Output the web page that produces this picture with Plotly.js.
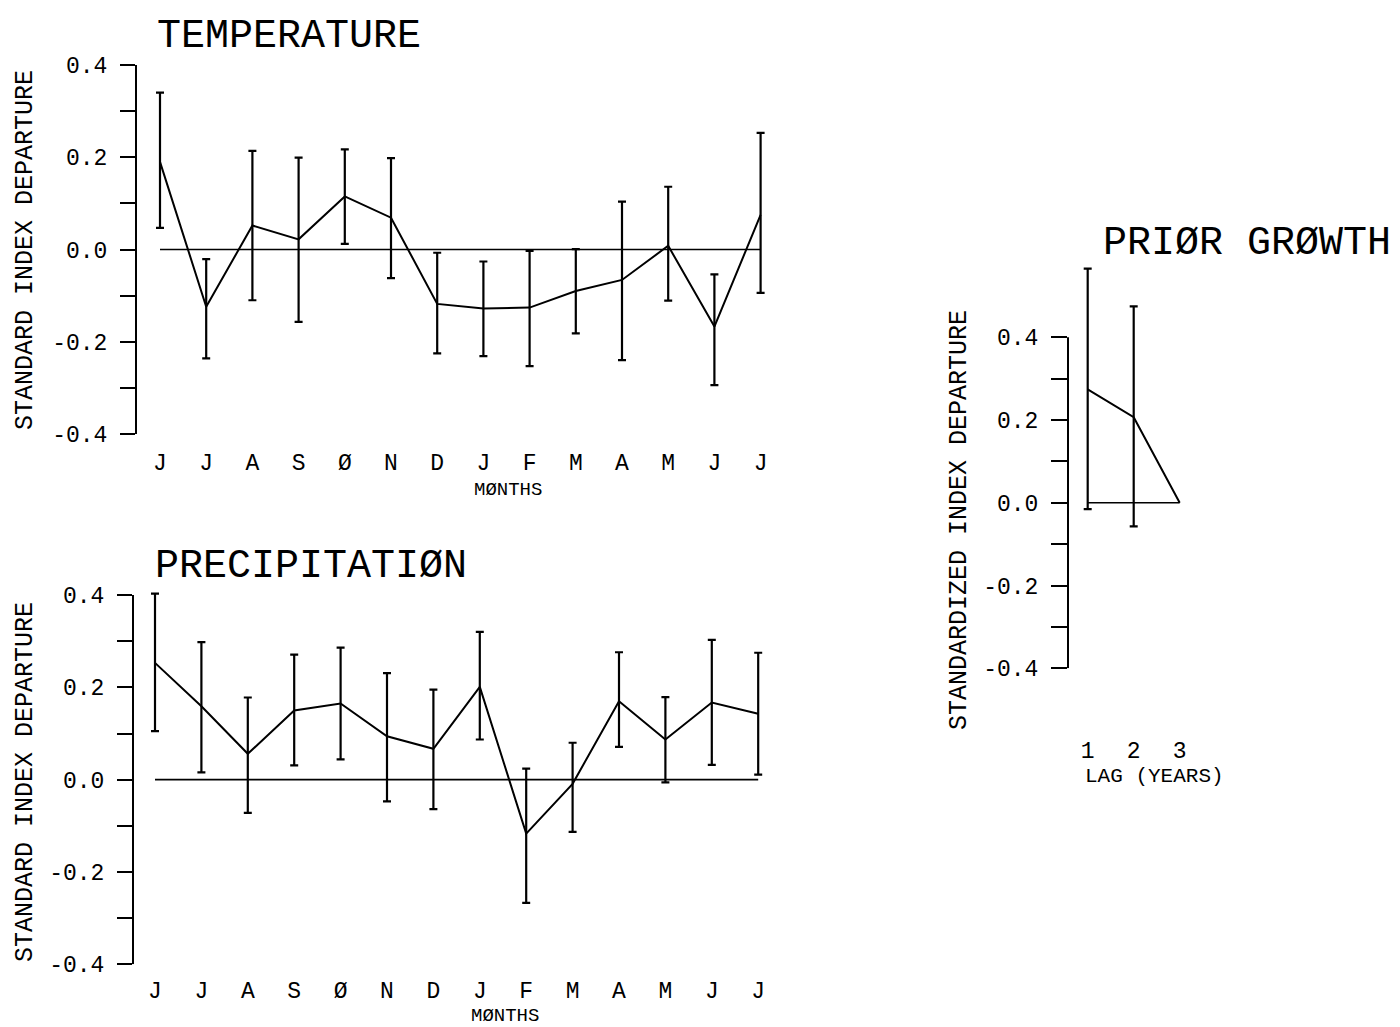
<!DOCTYPE html>
<html>
<head>
<meta charset="utf-8">
<script src="https://cdn.plot.ly/plotly-3.0.1.min.js"></script>
<style>html,body{margin:0;padding:0;background:#fff;}#chart{width:1400px;height:1027px;}</style>
</head>
<body>
<div id="chart"></div>
<script>
// ---- data ----
const months = ["J","J","A","S","Ø","N","D","J","F","M","A","M","J","J"];
const tempValues = [0.19, -0.124, 0.052, 0.022, 0.115, 0.069, -0.118, -0.128, -0.126, -0.09, -0.066, 0.008, -0.167, 0.075];
const tempUpper  = [0.34, -0.021, 0.214, 0.199, 0.217, 0.198, -0.007, -0.026, -0.003, 0.001, 0.104, 0.136, -0.054, 0.253];
const tempLower  = [0.047, -0.236, -0.11, -0.157, 0.012, -0.062, -0.225, -0.231, -0.253, -0.182, -0.24, -0.111, -0.294, -0.094];
const precipValues = [0.253, 0.159, 0.056, 0.150, 0.165, 0.094, 0.067, 0.201, -0.117, -0.009, 0.170, 0.087, 0.167, 0.143];
const precipUpper  = [0.403, 0.298, 0.178, 0.271, 0.286, 0.231, 0.195, 0.320, 0.024, 0.080, 0.276, 0.179, 0.303, 0.275];
const precipLower  = [0.105, 0.016, -0.072, 0.031, 0.044, -0.047, -0.064, 0.087, -0.267, -0.113, 0.071, -0.006, 0.032, 0.011];
const lagYears = [1, 2, 3];
const growthValues = [0.274, 0.207, 0.0];
const growthUpper  = [0.566, 0.475, null];
const growthLower  = [-0.015, -0.057, null];
const yTickVals = [-0.4, -0.3, -0.2, -0.1, 0.0, 0.1, 0.2, 0.3, 0.4];
const yTickText = ["-0.4", "", "-0.2", "", "0.0", "", "0.2", "", "0.4"];

// ---- helpers ----
const W = 1400, H = 1027;
const FONT = "Liberation Mono, DejaVu Sans Mono, monospace";
const px = v => v / W;
const py = v => 1 - v / H;
const idx = months.map((_, i) => i);
const plus = (hi, v) => hi.map((h, i) => h == null ? NaN : h - v[i]);
const minus = (lo, v) => lo.map((l, i) => l == null ? NaN : v[i] - l);

function seriesTrace(x, y, hi, lo, xa, ya) {
  return {
    type: "scatter", mode: "lines", x: x, y: y, xaxis: xa, yaxis: ya,
    line: {color: "#000", width: 2}, cliponaxis: false, showlegend: false, hoverinfo: "skip",
    error_y: {type: "data", symmetric: false, array: plus(hi, y), arrayminus: minus(lo, y),
              color: "#000", thickness: 2.2, width: 4}
  };
}
function zeroTrace(x, xa, ya) {
  return {type: "scatter", mode: "lines", x: [x[0], x[x.length - 1]], y: [0, 0], xaxis: xa, yaxis: ya,
          line: {color: "#000", width: 1.6}, showlegend: false, hoverinfo: "skip", cliponaxis: false};
}

const data = [
  zeroTrace(idx, "x", "y"),
  seriesTrace(idx, tempValues, tempUpper, tempLower, "x", "y"),
  zeroTrace(idx, "x2", "y2"),
  seriesTrace(idx, precipValues, precipUpper, precipLower, "x2", "y2"),
  zeroTrace(lagYears, "x3", "y3"),
  seriesTrace(lagYears, growthValues, growthUpper, growthLower, "x3", "y3")
];

function yAxis(domTop, domBot, range, showline) {
  return {
    domain: [py(domBot), py(domTop)], range: range, fixedrange: true,
    tickmode: "array", tickvals: yTickVals, ticktext: yTickText,
    ticks: "outside", ticklen: 15, tickwidth: 2, tickcolor: "#000",
    showline: showline, linewidth: 2, linecolor: "#000",
    showgrid: false, zeroline: false, ticklabelstandoff: 8,
    tickfont: {family: FONT, size: 23, color: "#000"}
  };
}
function xAxis(domL, domR, range, vals, text, standoff, anchor) {
  return {
    domain: [px(domL), px(domR)], range: range, anchor: anchor, fixedrange: true,
    tickmode: "array", tickvals: vals, ticktext: text, ticks: "",
    showline: false, showgrid: false, zeroline: false, ticklabelstandoff: standoff,
    tickfont: {family: FONT, size: 23, color: "#000"}
  };
}

function ann(text, x, y, size, opts) {
  return Object.assign({text: text, xref: "paper", yref: "paper", x: px(x), y: py(y),
    showarrow: false, xanchor: "left", yanchor: "middle",
    font: {family: FONT, size: size, color: "#000"}}, opts || {});
}

const layout = {
  width: W, height: H, margin: {l: 0, r: 0, t: 0, b: 0},
  paper_bgcolor: "#fff", plot_bgcolor: "rgba(0,0,0,0)", showlegend: false,
  xaxis: xAxis(137, 770, [-(160 - 137) / 46.2, (770 - 160) / 46.2], idx, months, 12, "y"),
  yaxis: yAxis(65, 434, [-0.4, 0.4], true),
  xaxis2: xAxis(133, 770, [-(155 - 133) / 46.4, (770 - 155) / 46.4], idx, months, 10, "y2"),
  yaxis2: Object.assign(yAxis(585.8, 964.3, [-0.4, 0.42], false), {anchor: "x2"}),
  xaxis3: xAxis(1068, 1200, [1 - (1087.7 - 1068) / 46, 1 + (1200 - 1087.7) / 46], lagYears, lagYears.map(String), 66, "y3"),
  yaxis3: Object.assign(yAxis(254.6, 668.3, [-0.4, 0.6], false), {anchor: "x3", ticklen: 16}),
  shapes: [
    {type: "line", xref: "x2 domain", yref: "y2", x0: 0, x1: 0, y0: -0.4, y1: 0.4,
     line: {color: "#000", width: 2}},
    {type: "line", xref: "x3 domain", yref: "y3", x0: 0, x1: 0, y0: -0.4, y1: 0.4,
     line: {color: "#000", width: 2}}
  ],
  annotations: [
    ann("TEMPERATURE", 155, 36, 40),
    ann("PRECIPITATIØN", 153, 566, 40),
    ann("PRIØR GRØWTH", 1101, 243, 40),
    ann("STANDARD INDEX DEPARTURE", 25, 250, 25, {xanchor: "center", textangle: -90}),
    ann("STANDARD INDEX DEPARTURE", 25, 782, 25, {xanchor: "center", textangle: -90}),
    ann("STANDARDIZED INDEX DEPARTURE", 959, 520, 25, {xanchor: "center", textangle: -90}),
    ann("MØNTHS", 508, 490, 19, {xanchor: "center"}),
    ann("MØNTHS", 505, 1016, 19, {xanchor: "center"}),
    ann("LAG (YEARS)", 1083, 776, 21)
  ]
};

Plotly.newPlot("chart", data, layout, {staticPlot: true, displayModeBar: false});
</script>
</body>
</html>
